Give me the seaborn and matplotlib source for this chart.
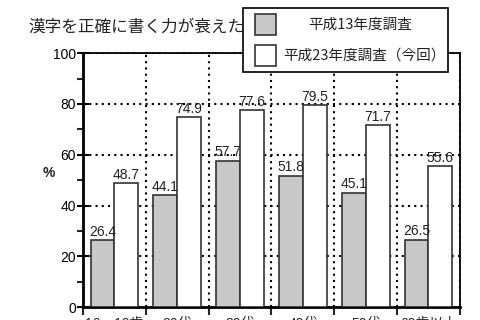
import matplotlib; matplotlib.use("Agg")
import matplotlib.pyplot as plt
import numpy as np
import pandas as pd
import seaborn as sns
from matplotlib.patches import Rectangle
from matplotlib.ticker import MultipleLocator

# ── data ──────────────────────────────────────────────
categories = ["16～19歳", "20代", "30代", "40代", "50代", "60歳以上"]
survey_names = ["平成13年度調査", "平成23年度調査（今回）"]
h13_values = [26.4, 44.1, 57.7, 51.8, 45.1, 26.5]
h23_values = [48.7, 74.9, 77.6, 79.5, 71.7, 55.6]
title_text = "漢字を正確に書く力が衰えた"

df = pd.DataFrame({
    "age": categories * 2,
    "survey": [survey_names[0]] * len(categories) + [survey_names[1]] * len(categories),
    "pct": h13_values + h23_values,
})

# ── style ─────────────────────────────────────────────
sns.set_theme(style="white")
plt.rcParams["font.family"] = ["Liberation Sans", "Noto Sans CJK JP", "DejaVu Sans"]
plt.rcParams["axes.unicode_minus"] = False

fig = plt.figure(figsize=(4.8, 3.2), dpi=100)
ax = fig.add_axes([0.173, 0.0406, 0.785, 0.793])

sns.barplot(data=df, x="age", y="pct", hue="survey", order=categories,
            hue_order=survey_names, palette=["#c8c8c8", "#ffffff"],
            width=0.76, edgecolor="#333333", linewidth=1.2, legend=False,
            ax=ax, zorder=3)

for cont in ax.containers:
    ax.bar_label(cont, fmt="%.1f", padding=1, fontsize=10, color="#222222")

ax.set_ylim(0, 100)
ax.set_xlim(-0.5, len(categories) - 0.5)
ax.yaxis.set_major_locator(MultipleLocator(20))
ax.yaxis.set_minor_locator(MultipleLocator(10))
ax.set_xticks(np.arange(len(categories)))
ax.set_xticklabels(categories)
ax.set_xticks(np.arange(len(categories) + 1) - 0.5, minor=True)

ax.tick_params(axis="y", which="major", direction="inout", length=8, width=1.5,
               labelsize=10, left=True, pad=1, colors="black")
ax.tick_params(axis="y", which="minor", direction="out", length=4, width=1.5, left=True)
ax.tick_params(axis="x", which="major", length=0, labelsize=10, pad=7)
ax.tick_params(axis="x", which="minor", direction="out", length=6, width=1.5, bottom=True)

ax.grid(False)
ax.yaxis.grid(True, which="major", linestyle=(0, (1, 2)), color="black", linewidth=1.5, zorder=0)
ax.xaxis.grid(True, which="minor", linestyle=(0, (1, 2)), color="black", linewidth=1.5, zorder=0)
ax.set_axisbelow(True)

for side in ["left", "bottom"]:
    ax.spines[side].set_linewidth(2)
    ax.spines[side].set_color("black")
for side in ["top", "right"]:
    ax.spines[side].set_linewidth(1.3)
    ax.spines[side].set_color("black")

ax.set_xlabel("")
ax.set_ylabel("%", rotation=0, fontsize=10, fontweight="bold", labelpad=12)
ax.yaxis.set_label_coords(-0.09, 0.5)

# ── title (partly covered by the legend box) ────────────
fig.text(28 / 480, 1 - 27 / 320, title_text, fontsize=12, va="center",
         ha="left", family=["Noto Sans CJK JP"], color="#222222", zorder=1)

# ── legend box ────────────────────────────────────────
W, H = 480, 320
def fx(px): return px / W
def fy(py): return 1 - py / H

frame = Rectangle((fx(243), fy(72)), fx(448) - fx(243), fy(8) - fy(72),
                  transform=fig.transFigure, facecolor="white", edgecolor="black",
                  linewidth=1.2, zorder=5)
fig.add_artist(frame)
fig.add_artist(Rectangle((fx(255), fy(35)), fx(21), 21 / H, transform=fig.transFigure,
                         facecolor="#c8c8c8", edgecolor="#333333", linewidth=1.2, zorder=6))
fig.add_artist(Rectangle((fx(255), fy(66)), fx(21), 21 / H, transform=fig.transFigure,
                         facecolor="white", edgecolor="#333333", linewidth=1.2, zorder=6))
fig.text(fx(360), fy(25), survey_names[0], fontsize=10.5, ha="center", va="center",
         family=["Noto Sans CJK JP"], color="#222222", zorder=7)
fig.text(fx(283), fy(56), survey_names[1], fontsize=10.5, ha="left", va="center",
         family=["Noto Sans CJK JP"], color="#222222", zorder=7)

fig.savefig("out.png", dpi=100)
